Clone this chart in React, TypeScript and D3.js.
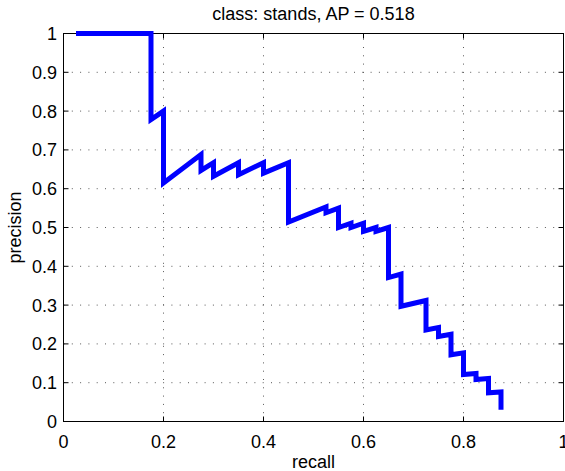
import React, { useEffect, useRef } from "react";
import { select, scaleLinear, line } from "d3";

// PR curve vertices (recall, precision)
const recall = [
  0.025, 0.175, 0.175, 0.2, 0.2, 0.275, 0.275, 0.3, 0.3, 0.35, 0.35, 0.4, 0.4,
  0.45, 0.45, 0.525, 0.525, 0.55, 0.55, 0.575, 0.575, 0.6, 0.6, 0.625, 0.625,
  0.65, 0.65, 0.675, 0.675, 0.725, 0.725, 0.75, 0.75, 0.775, 0.775, 0.8, 0.8,
  0.825, 0.825, 0.85, 0.85, 0.875, 0.875,
];
const precision = [
  1, 1, 0.778, 0.8, 0.615, 0.688, 0.647, 0.667, 0.632, 0.667, 0.636, 0.667, 0.64,
  0.667, 0.514, 0.553, 0.538, 0.55, 0.5, 0.511, 0.5, 0.511, 0.49, 0.5, 0.49,
  0.5, 0.371, 0.38, 0.297, 0.312, 0.236, 0.242, 0.219, 0.225, 0.172, 0.177, 0.121,
  0.124, 0.108, 0.111, 0.074, 0.076, 0.03,
];

const xTicks = [0, 0.2, 0.4, 0.6, 0.8, 1];
const xTickLabels = ["0", "0.2", "0.4", "0.6", "0.8", "1"];
const yTicks = [0, 0.1, 0.2, 0.3, 0.4, 0.5, 0.6, 0.7, 0.8, 0.9, 1];
const yTickLabels = ["0", "0.1", "0.2", "0.3", "0.4", "0.5", "0.6", "0.7", "0.8", "0.9", "1"];

const titleText = "class: stands, AP = 0.518";
const xLabel = "recall";
const yLabel = "precision";

const W = 565;
const H = 471;
const FONT = "'Liberation Sans', Arial, Helvetica, sans-serif";

const App = () => {
  const ref = useRef<SVGSVGElement>(null);

  useEffect(() => {
    const svg = select(ref.current);
    svg.selectAll("*").remove();

    const x = scaleLinear().domain([0, 1]).range([63.5, 563.5]);
    const y = scaleLinear().domain([0, 1]).range([421.5, 33.5]);
    const tick = 5;

    // dotted grid
    const grid = svg.append("g")
      .attr("stroke", "#000")
      .attr("stroke-width", 1)
      .attr("stroke-dasharray", "1,7.3")
      .attr("opacity", 0.65);
    grid.selectAll("line.gx")
      .data(xTicks.slice(1, -1))
      .join("line")
      .attr("x1", (d) => x(d))
      .attr("x2", (d) => x(d))
      .attr("y1", y(0))
      .attr("y2", y(1));
    grid.selectAll("line.gy")
      .data(yTicks.slice(1, -1))
      .join("line")
      .attr("class", "gy")
      .attr("x1", x(0))
      .attr("x2", x(1))
      .attr("y1", (d) => y(d))
      .attr("y2", (d) => y(d));

    // ticks on all four sides, pointing in
    const ticks = svg.append("g").attr("stroke", "#000").attr("stroke-width", 1);
    xTicks.forEach((t) => {
      ticks.append("line").attr("x1", x(t)).attr("x2", x(t)).attr("y1", y(0)).attr("y2", y(0) - tick);
      ticks.append("line").attr("x1", x(t)).attr("x2", x(t)).attr("y1", y(1)).attr("y2", y(1) + tick);
    });
    yTicks.forEach((t) => {
      ticks.append("line").attr("x1", x(0)).attr("x2", x(0) + tick).attr("y1", y(t)).attr("y2", y(t));
      ticks.append("line").attr("x1", x(1)).attr("x2", x(1) - tick).attr("y1", y(t)).attr("y2", y(t));
    });

    // box
    svg.append("rect")
      .attr("x", x(0))
      .attr("y", y(1))
      .attr("width", x(1) - x(0))
      .attr("height", y(0) - y(1))
      .attr("fill", "none")
      .attr("stroke", "#000")
      .attr("stroke-width", 1);

    // PR curve
    const pts = recall.map((r, i) => [r, precision[i]] as [number, number]);
    const path = line<[number, number]>()
      .x((d) => x(d[0]))
      .y((d) => y(d[1]));
    svg.append("path")
      .datum(pts)
      .attr("d", path)
      .attr("fill", "none")
      .attr("stroke", "#0000ff")
      .attr("stroke-width", 5)
      .attr("stroke-linejoin", "miter")
      .attr("stroke-linecap", "butt");

    // tick labels
    const labels = svg.append("g").attr("font-family", FONT).attr("font-size", 18).attr("fill", "#000");
    labels.selectAll("text.xl")
      .data(xTicks)
      .join("text")
      .attr("class", "xl")
      .attr("x", (d) => x(d))
      .attr("y", 448)
      .attr("text-anchor", "middle")
      .text((_, i) => xTickLabels[i]);
    labels.selectAll("text.yl")
      .data(yTicks)
      .join("text")
      .attr("class", "yl")
      .attr("x", 57)
      .attr("y", (d) => y(d))
      .attr("dy", "0.36em")
      .attr("text-anchor", "end")
      .text((_, i) => yTickLabels[i]);

    // title and axis labels
    labels.append("text")
      .attr("x", (x(0) + x(1)) / 2)
      .attr("y", 20)
      .attr("text-anchor", "middle")
      .text(titleText);
    labels.append("text")
      .attr("x", (x(0) + x(1)) / 2)
      .attr("y", 468)
      .attr("text-anchor", "middle")
      .text(xLabel);
    labels.append("text")
      .attr("transform", `translate(21,${(y(0) + y(1)) / 2}) rotate(-90)`)
      .attr("text-anchor", "middle")
      .text(yLabel);
  }, []);

  return (
    <svg
      ref={ref}
      width={W}
      height={H}
      style={{ position: "absolute", left: 0, top: 0, background: "#fff" }}
    />
  );
};

export default App;
